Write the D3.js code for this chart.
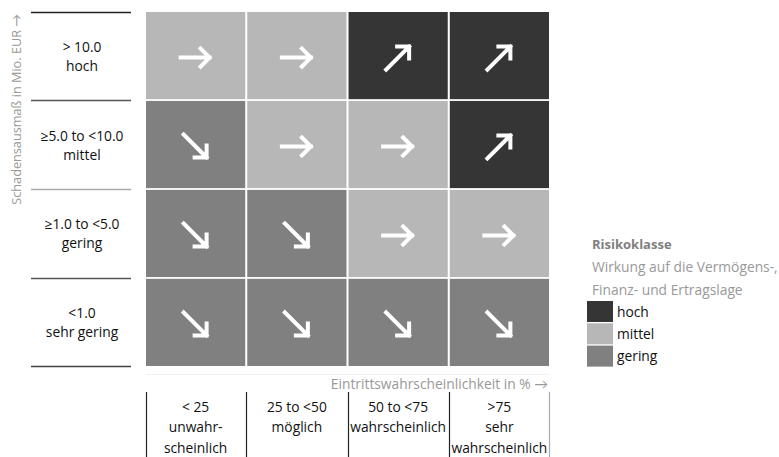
<!DOCTYPE html>
<html>
<head>
<meta charset="utf-8">
<script src="https://cdn.jsdelivr.net/npm/d3@7"></script>
<style>
  html, body { margin: 0; padding: 0; background: #fff; }
  svg { display: block; font-family: "Open Sans", Lato, sans-serif; }
</style>
</head>
<body>
<svg id="chart" width="779" height="457"></svg>
<script>
// ---- data ----
const rowLabels = [
  ["> 10.0", "hoch"],
  ["\u22655.0 to <10.0", "mittel"],
  ["\u22651.0 to <5.0", "gering"],
  ["<1.0", "sehr gering"]
];
const colLabels = [
  ["< 25", "unwahr-", "scheinlich"],
  ["25 to <50", "möglich"],
  ["50 to <75", "wahrscheinlich"],
  [">75", "sehr", "wahrscheinlich"]
];
const riskClasses = ["hoch", "mittel", "gering"];
const riskMatrix = [
  ["mittel", "mittel", "hoch", "hoch"],
  ["gering", "mittel", "mittel", "hoch"],
  ["gering", "gering", "mittel", "mittel"],
  ["gering", "gering", "gering", "gering"]
];
const yAxisTitle = "Schadensausmaß in Mio. EUR \u2192";
const xAxisTitle = "Eintrittswahrscheinlichkeit in % \u2192";
const legendTitle = "Risikoklasse";
const legendSub = ["Wirkung auf die Vermögens-,", "Finanz- und Ertragslage"];

// ---- scales ----
const svg = d3.select("#chart");
const FS = 13.8;
const colorScale = d3.scaleOrdinal().domain(riskClasses).range(["#353535", "#b7b7b7", "#808080"]);
const x = d3.scaleBand().domain(d3.range(colLabels.length)).range([146, 549]).paddingInner(0.02).paddingOuter(0);
const y = d3.scaleBand().domain(d3.range(rowLabels.length)).range([12, 366]).paddingInner(0.02).paddingOuter(0);

// ---- cells ----
const cells = [];
riskMatrix.forEach((row, r) => row.forEach((cls, c) => cells.push({ r, c, cls })));

svg.append("g").selectAll("rect").data(cells).join("rect")
  .attr("x", d => x(d.c)).attr("y", d => y(d.r))
  .attr("width", x.bandwidth()).attr("height", y.bandwidth())
  .attr("fill", d => colorScale(d.cls));

// arrows
const arrowPaths = {
  mittel: "M-15,0 L14,0 M5,-9 L14,0 L5,9",
  hoch: "M-12,12 L11,-11 M-1,-11 L11,-11 L11,1",
  gering: "M-12,-12 L11,11 M-1,11 L11,11 L11,-1"
};
svg.append("g").selectAll("path").data(cells).join("path")
  .attr("transform", d => `translate(${x(d.c) + x.bandwidth() / 2},${y(d.r) + y.bandwidth() / 2 + 2})`)
  .attr("d", d => arrowPaths[d.cls])
  .attr("fill", "none").attr("stroke", "#fff").attr("stroke-width", 4)
  .attr("stroke-linecap", "square").attr("stroke-linejoin", "miter");

// faint guide line
svg.append("line").attr("x1", 146).attr("x2", 549).attr("y1", 374.5).attr("y2", 374.5)
  .attr("stroke", "#f2f2f2").attr("stroke-width", 1);

// ---- row headers ----
const rowLineYs = [12, ...d3.range(rowLabels.length).map(i => y(i) + y.bandwidth() + (i < rowLabels.length - 1 ? y.step() * 0.01 : 0))];
const rowLineColors = ["#222", "#555", "#aaa", "#555", "#444"];
svg.append("g").selectAll("line").data(rowLineYs).join("line")
  .attr("x1", 31).attr("x2", 131)
  .attr("y1", d => Math.round(d) + 0.5).attr("y2", d => Math.round(d) + 0.5)
  .attr("stroke", (d, i) => rowLineColors[i]).attr("stroke-width", 1.3);

const rowG = svg.append("g").selectAll("g").data(rowLabels).join("g")
  .attr("transform", (d, i) => `translate(82,${y(i) + y.bandwidth() / 2})`);
rowG.selectAll("text").data(d => d).join("text")
  .attr("text-anchor", "middle")
  .attr("y", (d, i) => i === 0 ? -4 : 15)
  .attr("font-size", FS).attr("fill", "#111")
  .text(d => d);

// y axis title
svg.append("text")
  .attr("transform", "translate(21,14) rotate(-90)")
  .attr("text-anchor", "end")
  .attr("font-size", 12.7).attr("fill", "#999")
  .text(yAxisTitle);

// ---- column headers ----
svg.append("text").attr("x", 548).attr("y", 389).attr("text-anchor", "end")
  .attr("font-size", FS).attr("fill", "#999").text(xAxisTitle);

const colLineXs = [146, ...d3.range(colLabels.length).map(i => x(i) + x.bandwidth() + (i < colLabels.length - 1 ? x.step() * 0.01 : 0))];
svg.append("g").selectAll("line").data(colLineXs).join("line")
  .attr("x1", d => Math.round(d) + 0.5).attr("x2", d => Math.round(d) + 0.5)
  .attr("y1", 392).attr("y2", 457)
  .attr("stroke", (d, i) => i === colLabels.length ? "#aaa" : "#222").attr("stroke-width", 1.2);

const colG = svg.append("g").selectAll("g").data(colLabels).join("g")
  .attr("transform", (d, i) => `translate(${x(i) + x.bandwidth() / 2},411.5)`);
colG.selectAll("text").data(d => d).join("text")
  .attr("text-anchor", "middle")
  .attr("y", (d, i) => i * 20.5)
  .attr("font-size", FS).attr("fill", "#111")
  .text(d => d);

// ---- legend ----
const lg = svg.append("g").attr("transform", "translate(592,0)");
lg.append("text").attr("x", 0).attr("y", 249).attr("font-size", 13).attr("font-weight", "bold")
  .attr("fill", "#808080").text(legendTitle);
lg.selectAll("text.sub").data(legendSub).join("text").attr("class", "sub")
  .attr("x", 0).attr("y", (d, i) => 272 + i * 22.5)
  .attr("font-size", FS).attr("fill", "#999").text(d => d);
const items = lg.selectAll("g.item").data(riskClasses).join("g").attr("class", "item")
  .attr("transform", (d, i) => `translate(-5,${301 + i * 22.3})`);
items.append("rect").attr("width", 26).attr("height", 21).attr("fill", d => colorScale(d));
items.append("text").attr("x", 30).attr("y", 15.5).attr("font-size", FS).attr("fill", "#111").text(d => d);
</script>
</body>
</html>
